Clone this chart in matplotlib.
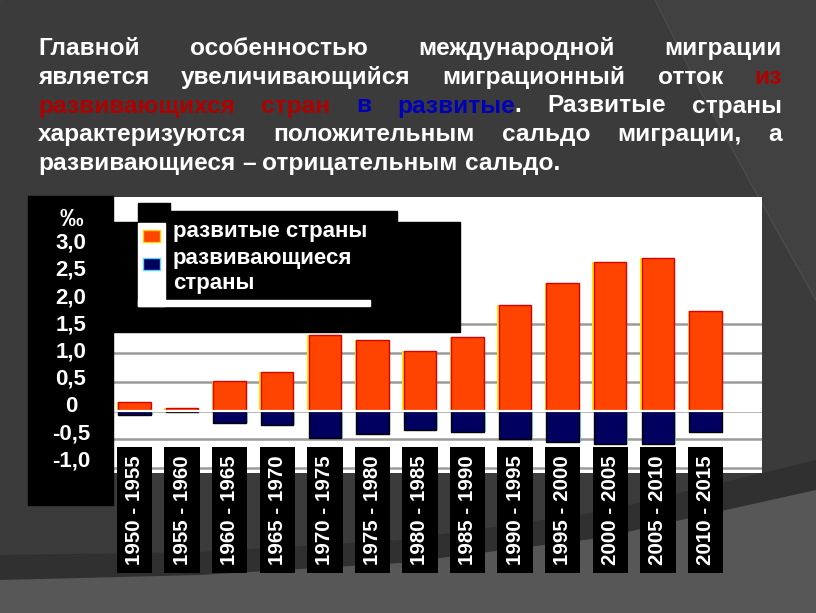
import matplotlib
matplotlib.use('Agg')
import matplotlib.pyplot as plt
import matplotlib.transforms as mtransforms
from matplotlib.patches import Rectangle, Polygon
import numpy as np

# ---------------- data ----------------
periods = ["1950 - 1955", "1955 - 1960", "1960 - 1965", "1965 - 1970",
           "1970 - 1975", "1975 - 1980", "1980 - 1985", "1985 - 1990",
           "1990 - 1995", "1995 - 2000", "2000 - 2005", "2005 - 2010",
           "2010 - 2015"]
developed = [0.15, 0.04, 0.51, 0.66, 1.31, 1.22, 1.04, 1.27, 1.84, 2.22, 2.57, 2.64, 1.73]
developing = [-0.08, -0.03, -0.22, -0.25, -0.48, -0.41, -0.33, -0.37, -0.50, -0.54, -0.58, -0.58, -0.37]
y_unit = "‰"
y_labels = ["3,0", "2,5", "2,0", "1,5", "1,0", "0,5", "0", "-0,5", "-1,0"]
grid_levels = [-1.0, -0.5, 0.0, 0.5, 1.0, 1.5]
legend_labels = ["развитые страны", "развивающиеся\nстраны"]

WHITE, RED, BLUE = "white", "#b00000", "#0000b8"
title_lines = [
    [[("Главной", WHITE)], [("особенностью", WHITE)], [("международной", WHITE)], [("миграции", WHITE)]],
    [[("является", WHITE)], [("увеличивающийся", WHITE)], [("миграционный", WHITE)], [("отток", WHITE)], [("из", RED)]],
    [[("развивающихся", RED)], [("стран", RED)], [("в", BLUE)], [("развитые", BLUE), (".", WHITE)],
     [("Развитые", WHITE)], [("страны", WHITE)]],
    [[("характеризуются", WHITE)], [("положительным", WHITE)], [("сальдо", WHITE)], [("миграции,", WHITE)], [("а", WHITE)]],
    [[("развивающиеся", WHITE)], [("–", WHITE)], [("отрицательным", WHITE)], [("сальдо.", WHITE)]],
]

FONT = ["Liberation Sans", "DejaVu Sans"]
plt.rcParams['font.family'] = FONT

W, H = 816, 613
fig = plt.figure(figsize=(W / 100, H / 100), dpi=100)

# ---------------- background (pixel coords) ----------------
bg = fig.add_axes([0, 0, 1, 1], zorder=-10)
bg.set_xlim(0, W); bg.set_ylim(H, 0); bg.axis('off')
bg.add_patch(Rectangle((0, 0), W, H, color='#3b3b3b'))
bg.add_patch(Polygon([(655, 0), (W, 0), (W, 300), (760, 200), (700, 90)], closed=True,
                     color='#414141', lw=0))
bg.plot([655, 700, 760, 816], [0, 90, 200, 300], color='#4c4c4c', lw=1)
bg.add_patch(Polygon([(0, 555), (200, 552), (400, 540), (600, 512), (W, 460), (W, H), (0, H)],
                     closed=True, color='#303030', lw=0))
bg.add_patch(Polygon([(0, 580), (200, 575), (400, 563), (600, 538), (W, 490), (W, H), (0, H)],
                     closed=True, color='#575757', lw=0))

# ---------------- chart ----------------
ax = fig.add_axes([113 / W, 1 - 473 / H, 649 / W, 276 / H], zorder=1)
ax.set_facecolor('white')
x = np.arange(len(periods))
ax.set_xlim(-0.452, 13.19)
ax.set_ylim(-1.085, 3.707)
for g in grid_levels:
    ax.axhline(g, color='#9a9a9a', lw=1.8, zorder=1)
ax.bar(x - 0.015, developed, width=0.72, color='#ffe600', zorder=2)
ax.bar(x, developed, width=0.68, color='#ff4300', edgecolor='#d80000', lw=1.0, zorder=3)
ax.bar(x + 0.02, developing, width=0.72, color='#7fe0ff', zorder=2)
ax.bar(x, developing, width=0.68, color='#00005e', edgecolor='black', lw=1.0, zorder=3)
ax.axhline(0, color='white', lw=1.6, zorder=4)
ax.set_xticks([]); ax.set_yticks([])
for s in ax.spines.values():
    s.set_visible(False)

# ---------------- overlay (pixel coords) ----------------
ov = fig.add_axes([0, 0, 1, 1], zorder=5)
ov.set_xlim(0, W); ov.set_ylim(H, 0); ov.axis('off')
ov.patch.set_alpha(0)

# y label panel
ov.add_patch(Rectangle((28, 196), 85, 309, color='black'))
ov.text(71, 219, y_unit, ha='center', va='center', color='white', fontsize=17, fontweight='bold')
for i, lab in enumerate(y_labels):
    ov.text(71, 243 + i * 27.3, lab, ha='center', va='center', color='white',
            fontsize=16, fontweight='bold')

# legend block
ov.add_patch(Rectangle((113, 222), 347, 110, color='black'))
ov.add_patch(Rectangle((138, 203), 32, 20, color='black'))
ov.add_patch(Rectangle((170, 211), 227, 12, color='black'))
ov.add_patch(Rectangle((138, 223), 27, 83, color='white'))
ov.add_patch(Rectangle((138, 300), 232, 6, color='white'))
ov.add_patch(Rectangle((143, 230), 17, 12, facecolor='#ff4300', edgecolor='#ffd000', lw=1))
ov.add_patch(Rectangle((143, 258), 17, 12, facecolor='#00005e', edgecolor='#60d0ff', lw=1))
ov.text(173, 232, legend_labels[0], ha='left', va='center', color='white',
        fontsize=16, fontweight='bold')
ov.text(173, 271, legend_labels[1], ha='left', va='center', color='white',
        fontsize=16, fontweight='bold', linespacing=1.2)

# x labels in black boxes
tr = mtransforms.blended_transform_factory(ax.transData, ov.transData)
for xi, p in zip(x, periods):
    ov.text(xi, 455, p, transform=tr, rotation=90, ha='center', va='top',
            color='white', fontsize=14.8, fontweight='bold',
            bbox=dict(boxstyle='square,pad=0.4', facecolor='black', edgecolor='none'))

# justified title
renderer = fig.canvas.get_renderer()
TFS = 17.6
def seg_width(s):
    t = ov.text(0, 0, s, fontsize=TFS, fontweight='bold')
    w = t.get_window_extent(renderer).width
    t.remove()
    return w

space_w = seg_width("a a") - seg_width("aa")
x0, x1 = 38, 782
baselines = [55, 83.75, 112.5, 141.25, 170]
for li, (line, yb) in enumerate(zip(title_lines, baselines)):
    widths = [[seg_width(s) for s, c in word] for word in line]
    totals = [sum(w) for w in widths]
    if li < len(title_lines) - 1:
        gap = (x1 - x0 - sum(totals)) / (len(line) - 1)
    else:
        gap = space_w
    cx = x0
    for word, ws in zip(line, widths):
        for (s, c), w in zip(word, ws):
            ov.text(cx, yb, s, ha='left', va='baseline', color=c, fontsize=TFS, fontweight='bold')
            cx += w
        cx += gap

fig.savefig('out.png', dpi=100)
